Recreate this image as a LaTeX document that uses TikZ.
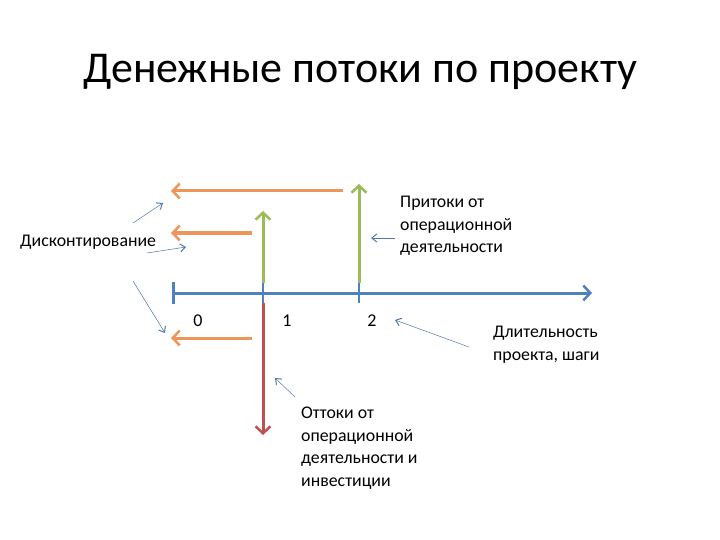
\documentclass[tikz,border=0pt]{standalone}
\usepackage{fontspec}
\setmainfont{Carlito}
\usetikzlibrary{arrows.meta}
\definecolor{axblue}{RGB}{79,129,189}
\definecolor{ororange}{RGB}{238,150,90}
\definecolor{grgreen}{RGB}{155,187,89}
\definecolor{rdred}{RGB}{192,80,77}
\definecolor{thinblue}{RGB}{80,120,170}
\tikzset{
  thick line/.style={line width=3pt, -{Straight Barb[length=7pt,width=15pt,line width=2.5pt]}},
  pointer/.style={draw=thinblue, line width=0.5pt, -{Straight Barb[length=5pt,width=8pt,line width=1pt]}},
  lbl/.style={font=\fontsize{17.8}{22.5}\selectfont, align=left, anchor=north west, inner sep=0pt},
  num/.style={font=\fontsize{18}{20}\selectfont, inner sep=0pt}
}
\begin{document}
\begin{tikzpicture}[x=1pt,y=-1pt]
\useasboundingbox (0,0) rectangle (720,540);
\node[font=\fontsize{44}{50}\selectfont, inner sep=0pt] (title) at (360,72) {Денежные потоки по проекту};
% axis
\coordinate (a0) at (173,293);
\coordinate (aend) at (592,293);
\draw[axblue, line width=3pt, -{Straight Barb[length=7pt,width=15pt,line width=2.5pt]}] (a0) -- (aend);
\draw[axblue, line width=3pt] (173,282) -- (173,304);
\draw[axblue, line width=2pt] (263,283) -- (263,303);
\draw[axblue, line width=2pt] (359,283) -- (359,303);
% green inflows
\coordinate (g1s) at (263,283);
\coordinate (g1e) at (263,211);
\coordinate (g2s) at (359,283);
\coordinate (g2e) at (359,184);
\draw[grgreen, thick line] (g1s) -- (g1e);
\draw[grgreen, thick line] (g2s) -- (g2e);
% red outflow
\coordinate (rs) at (263,303);
\coordinate (re) at (263,435);
\draw[rdred, thick line] (rs) -- (re);
% orange discount arrows
\coordinate (o1s) at (343,191); \coordinate (o1e) at (171,191);
\coordinate (o2s) at (252,233); \coordinate (o2e) at (171,233);
\coordinate (o3s) at (252,338); \coordinate (o3e) at (171,338);
\draw[ororange, thick line] (o1s) -- (o1e);
\draw[ororange, thick line] (o2s) -- (o2e);
\draw[ororange, thick line] (o3s) -- (o3e);
% numbers
\node[num] (n0) at (198,321) {0};
\node[num] (n1) at (287,321) {1};
\node[num] (n2) at (372,321) {2};
% labels
\node[lbl, anchor=west] (disc) at (20,242) {Дисконтирование};
\node[lbl] (pri) at (400,196) {Притоки от\\операционной\\деятельности};
\node[lbl] (dl) at (493,326) {Длительность\\проекта, шаги};
\node[lbl] (ott) at (301,407) {Оттоки от\\операционной\\деятельности и\\инвестиции};
% pointers
\coordinate (p1s) at (133,223); \coordinate (p1e) at (163,203);
\coordinate (p2s) at (147,253); \coordinate (p2e) at (186,247);
\coordinate (p3s) at (133,281); \coordinate (p3e) at (165,333);
\coordinate (p4s) at (395,238); \coordinate (p4e) at (371,238);
\coordinate (p5s) at (469,347); \coordinate (p5e) at (395,320);
\coordinate (p6s) at (295,397); \coordinate (p6e) at (275,378);
\draw[pointer] (p1s) -- (p1e);
\draw[pointer] (p2s) -- (p2e);
\draw[pointer] (p3s) -- (p3e);
\draw[pointer] (p4s) -- (p4e);
\draw[pointer] (p5s) -- (p5e);
\draw[pointer] (p6s) -- (p6e);
\end{tikzpicture}
\end{document}
